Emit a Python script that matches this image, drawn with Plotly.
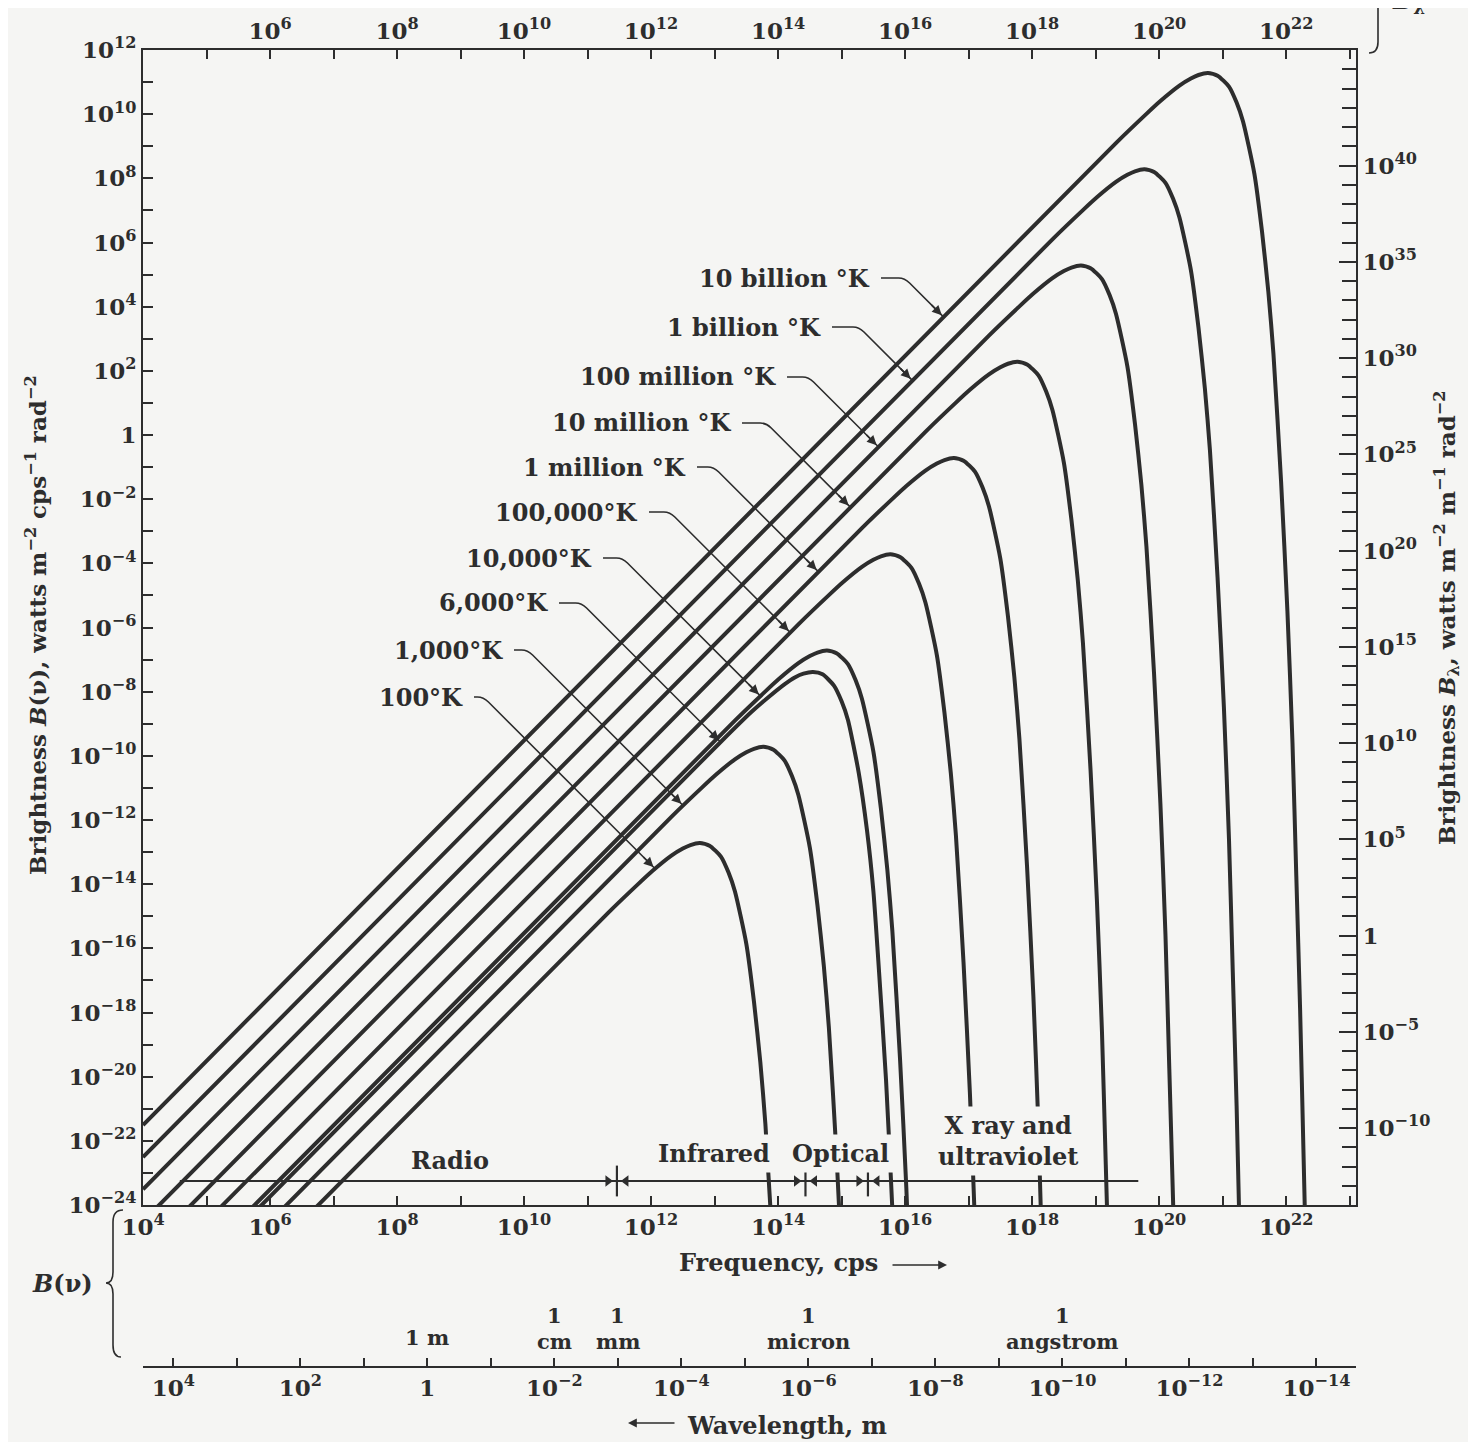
import plotly.graph_objects as go

# ---------------- data ----------------
# log10 of frequency (cps) and log10 of brightness B(nu) along each curve
temperatures = ["100°K", "1,000°K", "6,000°K", "10,000°K", "100,000°K",
                "1 million °K", "10 million °K", "100 million °K",
                "1 billion °K", "10 billion °K"]

lognu_100K = [4.0, 11.32, 11.80, 12.02, 12.32, 12.50, 12.62, 12.77, 12.92, 13.10, 13.22,
              13.32, 13.50, 13.62, 13.72, 13.80, 13.92]
logB_100K = [-29.51, -14.90, -13.99, -13.59, -13.11, -12.89, -12.78, -12.72, -12.80, -13.14,
             -13.64, -14.22, -15.86, -17.66, -19.54, -21.47, -25.44]

lognu_1000K = [4.0, 12.32, 12.80, 13.02, 13.32, 13.50, 13.62, 13.77, 13.92, 14.10, 14.22,
               14.32, 14.50, 14.62, 14.72, 14.80, 14.92, 15.02]
logB_1000K = [-28.51, -11.90, -10.99, -10.59, -10.11, -9.89, -9.78, -9.72, -9.80, -10.14,
              -10.64, -11.22, -12.86, -14.66, -16.54, -18.47, -22.44, -26.49]

lognu_6000K = [4.0, 13.10, 13.57, 13.80, 14.10, 14.27, 14.40, 14.55, 14.70, 14.88, 15.00,
               15.10, 15.27, 15.40, 15.50, 15.57, 15.70, 15.80, 15.88]
logB_6000K = [-27.73, -9.56, -8.65, -8.25, -7.77, -7.55, -7.44, -7.39, -7.46, -7.81,
              -8.30, -8.88, -10.53, -12.32, -14.20, -16.14, -20.11, -24.16, -28.26]

lognu_1e4K = [4.0, 13.32, 13.80, 14.02, 14.32, 14.50, 14.62, 14.77, 14.92, 15.10, 15.22,
              15.32, 15.50, 15.62, 15.72, 15.80, 15.92, 16.02, 16.10]
logB_1e4K = [-27.51, -8.90, -7.99, -7.59, -7.11, -6.89, -6.78, -6.72, -6.80, -7.14,
             -7.64, -8.22, -9.86, -11.66, -13.54, -15.47, -19.44, -23.49, -27.60]

lognu_1e5K = [4.0, 14.32, 14.80, 15.02, 15.32, 15.50, 15.62, 15.77, 15.92, 16.10, 16.22,
              16.32, 16.50, 16.62, 16.72, 16.80, 16.92, 17.02, 17.10, 17.16]
logB_1e5K = [-26.51, -5.90, -4.99, -4.59, -4.11, -3.89, -3.78, -3.72, -3.80, -4.14,
             -4.64, -5.22, -6.86, -8.66, -10.54, -12.47, -16.44, -20.49, -24.60, -28.74]

lognu_1e6K = [4.0, 15.32, 15.80, 16.02, 16.32, 16.50, 16.62, 16.77, 16.92, 17.10, 17.22,
              17.32, 17.50, 17.62, 17.72, 17.80, 17.92, 18.02, 18.10, 18.16]
logB_1e6K = [-25.51, -2.90, -1.99, -1.59, -1.11, -0.89, -0.78, -0.72, -0.80, -1.14,
             -1.64, -2.22, -3.86, -5.66, -7.54, -9.47, -13.44, -17.49, -21.60, -25.74]

lognu_1e7K = [4.0, 16.32, 16.80, 17.02, 17.32, 17.50, 17.62, 17.77, 17.92, 18.10, 18.22,
              18.32, 18.50, 18.62, 18.72, 18.80, 18.92, 19.02, 19.10, 19.16, 19.22]
logB_1e7K = [-24.51, 0.10, 1.01, 1.41, 1.89, 2.11, 2.22, 2.28, 2.20, 1.86,
             1.36, 0.78, -0.86, -2.66, -4.54, -6.47, -10.44, -14.49, -18.60, -22.74, -26.91]

lognu_1e8K = [4.0, 17.32, 17.80, 18.02, 18.32, 18.50, 18.62, 18.77, 18.92, 19.10, 19.22,
              19.32, 19.50, 19.62, 19.72, 19.80, 19.92, 20.02, 20.10, 20.16, 20.22, 20.27]
logB_1e8K = [-23.51, 3.10, 4.01, 4.41, 4.89, 5.11, 5.22, 5.28, 5.20, 4.86,
             4.36, 3.78, 2.14, 0.34, -1.54, -3.47, -7.44, -11.49, -15.60, -19.74, -23.91, -28.10]

lognu_1e9K = [4.0, 18.32, 18.80, 19.02, 19.32, 19.50, 19.62, 19.77, 19.92, 20.10, 20.22,
              20.32, 20.50, 20.62, 20.72, 20.80, 20.92, 21.02, 21.10, 21.16, 21.22, 21.27]
logB_1e9K = [-22.51, 6.10, 7.01, 7.41, 7.89, 8.11, 8.22, 8.28, 8.20, 7.86,
             7.36, 6.78, 5.14, 3.34, 1.46, -0.47, -4.44, -8.49, -12.60, -16.74, -20.91, -25.10]

lognu_1e10K = [4.0, 19.32, 19.80, 20.02, 20.32, 20.50, 20.62, 20.77, 20.92, 21.10, 21.22,
               21.32, 21.50, 21.62, 21.72, 21.80, 21.92, 22.02, 22.10, 22.16, 22.22, 22.27, 22.32]
logB_1e10K = [-21.51, 9.10, 10.01, 10.41, 10.89, 11.11, 11.22, 11.28, 11.20, 10.86,
              10.36, 9.78, 8.14, 6.34, 4.46, 2.53, -1.44, -5.49, -9.60, -13.74, -17.91, -22.10, -26.30]

curves = [(lognu_100K, logB_100K), (lognu_1000K, logB_1000K), (lognu_6000K, logB_6000K),
          (lognu_1e4K, logB_1e4K), (lognu_1e5K, logB_1e5K), (lognu_1e6K, logB_1e6K),
          (lognu_1e7K, logB_1e7K), (lognu_1e8K, logB_1e8K), (lognu_1e9K, logB_1e9K),
          (lognu_1e10K, logB_1e10K)]

# where each label's arrow touches its curve (log10 nu, log10 B)
arrow_tip_lognu = [12.06, 12.50, 13.09, 13.72, 14.19, 14.63, 15.134, 15.575, 16.11, 16.60]
arrow_tip_logB = [-13.51, -11.54, -9.56, -8.13, -6.15, -4.25, -2.24, -0.36, 1.71, 3.69]

# spectral band bar along the bottom
band_freq = [3.8e4, 4.7e19]
band_level = 5.6e-24
region_bounds = [2.9e11, 2.7e14, 2.6e15]
region_names = ["Radio", "Infrared", "Optical", "X ray and<br>ultraviolet"]

# axis tick exponents
freq_exps = list(range(4, 24))
freq_label_exps_bottom = list(range(4, 23, 2))
freq_label_exps_top = list(range(6, 23, 2))
bnu_exps = list(range(-24, 13))
bnu_label_exps = list(range(-24, 13, 2))
blam_exps = list(range(-14, 47))
blam_label_exps = list(range(-10, 41, 5))
wl_exps = list(range(-14, 5))
wl_label_exps = list(range(-14, 5, 2))
wl_units = [("1", "m", 0), ("1", "cm", -2), ("1", "mm", -3), ("1", "micron", -6), ("1", "angstrom", -10)]

# ---------------- layout geometry (page pixels) ----------------
OFF = 8                      # browser body margin around the plot div
PAGE_W, PAGE_H = 1476, 1450
W, H = PAGE_W - 2 * OFF, PAGE_H - 2 * OFF
PLOT_LEFT, PLOT_RIGHT, PLOT_TOP, PLOT_BOTTOM = 143, 1356, 50, 1205
WL_AXIS_Y = 1367
ML = PLOT_LEFT - OFF
MR = PAGE_W - OFF - PLOT_RIGHT
MT = PLOT_TOP - OFF
MB = PAGE_H - OFF - WL_AXIS_Y
PW = PLOT_RIGHT - PLOT_LEFT
PH = WL_AXIS_Y - PLOT_TOP
YDOM0 = (WL_AXIS_Y - PLOT_BOTTOM) / PH
XR = [4.0, 23.1]
YR = [-24.0, 12.0]
C_LOG = 8.477  # log10 of light speed, links wavelength scale to frequency scale

INK = "#2d2d2d"
BG = "#f5f5f3"
FONT = "DejaVu Serif"


def px(x):
    return (x - PLOT_LEFT) / PW


def py(y):
    return (WL_AXIS_Y - y) / PH


def data_px(lognu, logb):
    xpix = PLOT_LEFT + (lognu - XR[0]) / (XR[1] - XR[0]) * PW
    ypix = PLOT_TOP + (YR[1] - logb) / (YR[1] - YR[0]) * (PLOT_BOTTOM - PLOT_TOP)
    return xpix, ypix


def sup(e):
    if e == 0:
        return "1"
    return ("10<sup>%d</sup>" % e).replace("-", "\u2212")


tickfont = dict(family=FONT, size=23, color=INK, weight="bold")
lblfont = dict(family=FONT, size=24, color=INK, weight="bold")
titlefont = dict(family=FONT, size=23, color=INK, weight="bold")
smallfont = dict(family=FONT, size=21, color=INK, weight="bold")

fig = go.Figure()

for ln, lb in curves:
    fig.add_trace(go.Scatter(
        x=[10 ** v for v in ln], y=[10 ** v for v in lb], mode="lines",
        line=dict(color=INK, width=4, shape="spline", smoothing=0.6),
        hoverinfo="skip", showlegend=False))

# band bar
fig.add_trace(go.Scatter(x=band_freq, y=[band_level, band_level], mode="lines",
                         line=dict(color=INK, width=1.8), hoverinfo="skip", showlegend=False))
fig.add_trace(go.Scatter(x=region_bounds, y=[band_level] * len(region_bounds), mode="markers",
                         marker=dict(symbol="line-ns", size=22, line=dict(width=2.2, color=INK)),
                         hoverinfo="skip", showlegend=False))
fig.add_trace(go.Scatter(x=[b / 1.386 for b in region_bounds], y=[band_level] * len(region_bounds),
                         mode="markers", marker=dict(symbol="triangle-right", size=10, color=INK),
                         hoverinfo="skip", showlegend=False))
fig.add_trace(go.Scatter(x=[b * 1.386 for b in region_bounds], y=[band_level] * len(region_bounds),
                         mode="markers", marker=dict(symbol="triangle-left", size=10, color=INK),
                         hoverinfo="skip", showlegend=False))

# invisible anchors for the extra axes
fig.add_trace(go.Scatter(x=[1e10], y=[1.0], xaxis="x2", yaxis="y", mode="markers",
                         marker=dict(opacity=0), hoverinfo="skip", showlegend=False))
fig.add_trace(go.Scatter(x=[1e10], y=[1.0], xaxis="x", yaxis="y2", mode="markers",
                         marker=dict(opacity=0), hoverinfo="skip", showlegend=False))
fig.add_trace(go.Scatter(x=[1.0], y=[1.0], xaxis="x3", yaxis="y", mode="markers",
                         marker=dict(opacity=0), hoverinfo="skip", showlegend=False))

axis_common = dict(type="log", showgrid=False, zeroline=False, showline=True, linecolor=INK,
                   linewidth=2, ticks="inside", tickcolor=INK, tickwidth=1.6, tickfont=tickfont,
                   automargin=False, tickmode="array")


def minor(exps, length):
    return dict(tickmode="array", tickvals=[10.0 ** e for e in exps], ticks="inside",
                ticklen=length, tickcolor=INK, tickwidth=1.6, showgrid=False)


fig.update_layout(
    template="none",
    width=W, height=H,
    margin=dict(l=ML, r=MR, t=MT, b=MB, pad=0),
    paper_bgcolor=BG, plot_bgcolor=BG,
    showlegend=False,
    xaxis=dict(axis_common, range=XR, domain=[0, 1], anchor="y", side="bottom", ticklen=9,
               tickvals=[10.0 ** e for e in freq_label_exps_bottom],
               ticktext=[sup(e) for e in freq_label_exps_bottom],
               minor=minor(freq_exps, 9)),
    xaxis2=dict(axis_common, range=XR, overlaying="x", anchor="y", side="top", ticklen=9,
                tickvals=[10.0 ** e for e in freq_label_exps_top],
                ticktext=[sup(e) for e in freq_label_exps_top],
                minor=minor(freq_exps, 9)),
    xaxis3=dict(axis_common, range=[C_LOG - XR[0], C_LOG - XR[1]], overlaying="x", anchor="free",
                position=0, side="bottom", ticklen=8,
                tickvals=[10.0 ** e for e in wl_label_exps],
                ticktext=[sup(e) for e in wl_label_exps],
                minor=minor(wl_exps, 8)),
    yaxis=dict(axis_common, range=YR, domain=[YDOM0, 1], anchor="x", side="left", ticklen=10,
               tickvals=[10.0 ** e for e in bnu_label_exps],
               ticktext=[sup(e) for e in bnu_label_exps],
               minor=minor(bnu_exps, 10)),
    yaxis2=dict(axis_common, range=[-14, 46], overlaying="y", anchor="x", side="right", ticklen=17,
                tickvals=[10.0 ** e for e in blam_label_exps],
                ticktext=[sup(e) for e in blam_label_exps],
                minor=minor(blam_exps, 14)),
)

ann = []
shapes = []

# temperature labels with bent leaders
label_pos = [(465, 697), (505, 650), (550, 603), (594, 558), (640, 512),
             (688, 467), (733, 423), (778, 377), (823, 327), (872, 278)]
for name, (rx, ly), tn, tb in zip(temperatures, label_pos, arrow_tip_lognu, arrow_tip_logB):
    ann.append(dict(x=px(rx), y=py(ly), xref="paper", yref="paper", xanchor="right",
                    yanchor="middle", text=name, showarrow=False, font=lblfont))
    tx, ty = data_px(tn, tb)
    bx = tx - (ty - ly)
    sx = rx + 9
    path = "M %.5f,%.5f L %.5f,%.5f Q %.5f,%.5f %.5f,%.5f L %.5f,%.5f" % (
        px(sx), py(ly), px(bx - 6), py(ly), px(bx), py(ly), px(bx + 5), py(ly + 5), px(tx), py(ty))
    shapes.append(dict(type="path", xref="paper", yref="paper", path=path,
                       line=dict(color=INK, width=1.6)))
    ann.append(dict(x=px(tx), y=py(ty), xref="paper", yref="paper", text="", showarrow=True,
                    ax=-13, ay=-13, arrowhead=2, arrowsize=1.2, arrowwidth=1.6, arrowcolor=INK,
                    standoff=2))

# region labels (boxes hide the curves like in the print)
region_pos = [(450, 1160), (714, 1153), (840, 1153), (1008, 1141)]
for name, (cx, cy) in zip(region_names, region_pos):
    ann.append(dict(x=px(cx), y=py(cy), xref="paper", yref="paper", xanchor="center",
                    yanchor="middle", text=name, showarrow=False, font=lblfont,
                    bgcolor=BG, borderpad=4))

# wavelength unit marks
for top, bottom, e in wl_units:
    if bottom == "m":
        ann.append(dict(x=e, y=py(1337), xref="x3", yref="paper", text="1 m", showarrow=False,
                        font=smallfont, xanchor="center", yanchor="middle"))
    else:
        ann.append(dict(x=e, y=py(1315), xref="x3", yref="paper", text=top, showarrow=False,
                        font=smallfont, xanchor="center", yanchor="middle"))
        ann.append(dict(x=e, y=py(1341), xref="x3", yref="paper", text=bottom, showarrow=False,
                        font=smallfont, xanchor="center", yanchor="middle"))

# axis titles
ann.append(dict(x=px(778), y=py(1262), xref="paper", yref="paper", text="Frequency, cps",
                showarrow=False, font=lblfont, xanchor="center", yanchor="middle"))
ann.append(dict(x=px(947), y=py(1265), xref="paper", yref="paper", text="", showarrow=True,
                ax=-56, ay=0, arrowhead=2, arrowsize=1.1, arrowwidth=1.6, arrowcolor=INK))
ann.append(dict(x=px(685), y=py(1425), xref="paper", yref="paper", text="Wavelength, m",
                showarrow=False, font=lblfont, xanchor="left", yanchor="middle"))
ann.append(dict(x=px(628), y=py(1423), xref="paper", yref="paper", text="", showarrow=True,
                ax=48, ay=0, arrowhead=2, arrowsize=1.1, arrowwidth=1.6, arrowcolor=INK))
ann.append(dict(x=px(36), y=py(625), xref="paper", yref="paper", textangle=-90,
                text="Brightness <i>B</i>(\u03bd), watts m<sup>\u22122</sup> cps<sup>\u22121</sup> rad<sup>\u22122</sup>",
                showarrow=False, font=titlefont, xanchor="center", yanchor="middle"))
ann.append(dict(x=px(1446), y=py(618), xref="paper", yref="paper", textangle=-90,
                text="Brightness <i>B</i><sub>\u03bb</sub>, watts m<sup>\u22122</sup> m<sup>\u22121</sup> rad<sup>\u22122</sup>",
                showarrow=False, font=titlefont, xanchor="center", yanchor="middle"))
ann.append(dict(x=px(62), y=py(1283), xref="paper", yref="paper", text="<i>B</i>(\u03bd)",
                showarrow=False, font=lblfont, xanchor="center", yanchor="middle"))
ann.append(dict(x=px(1408), y=py(2), xref="paper", yref="paper", text="<i>B</i><sub>\u03bb</sub>",
                showarrow=False, font=lblfont, xanchor="center", yanchor="middle"))

# braces
brace_left = ("M %f,%f Q %f,%f %f,%f L %f,%f Q %f,%f %f,%f Q %f,%f %f,%f L %f,%f Q %f,%f %f,%f" % (
    px(123), py(1210), px(113), py(1210), px(113), py(1222), px(113), py(1272),
    px(113), py(1283), px(106), py(1283), px(113), py(1283), px(113), py(1294),
    px(113), py(1345), px(113), py(1357), px(121), py(1357)))
shapes.append(dict(type="path", xref="paper", yref="paper", path=brace_left,
                   line=dict(color=INK, width=1.6)))
brace_top = "M %f,%f Q %f,%f %f,%f L %f,%f" % (
    px(1369), py(53), px(1378), py(53), px(1378), py(42), px(1378), py(-20))
shapes.append(dict(type="path", xref="paper", yref="paper", path=brace_top,
                   line=dict(color=INK, width=1.6)))

fig.update_layout(annotations=ann, shapes=shapes)
fig.write_html("out.html")
